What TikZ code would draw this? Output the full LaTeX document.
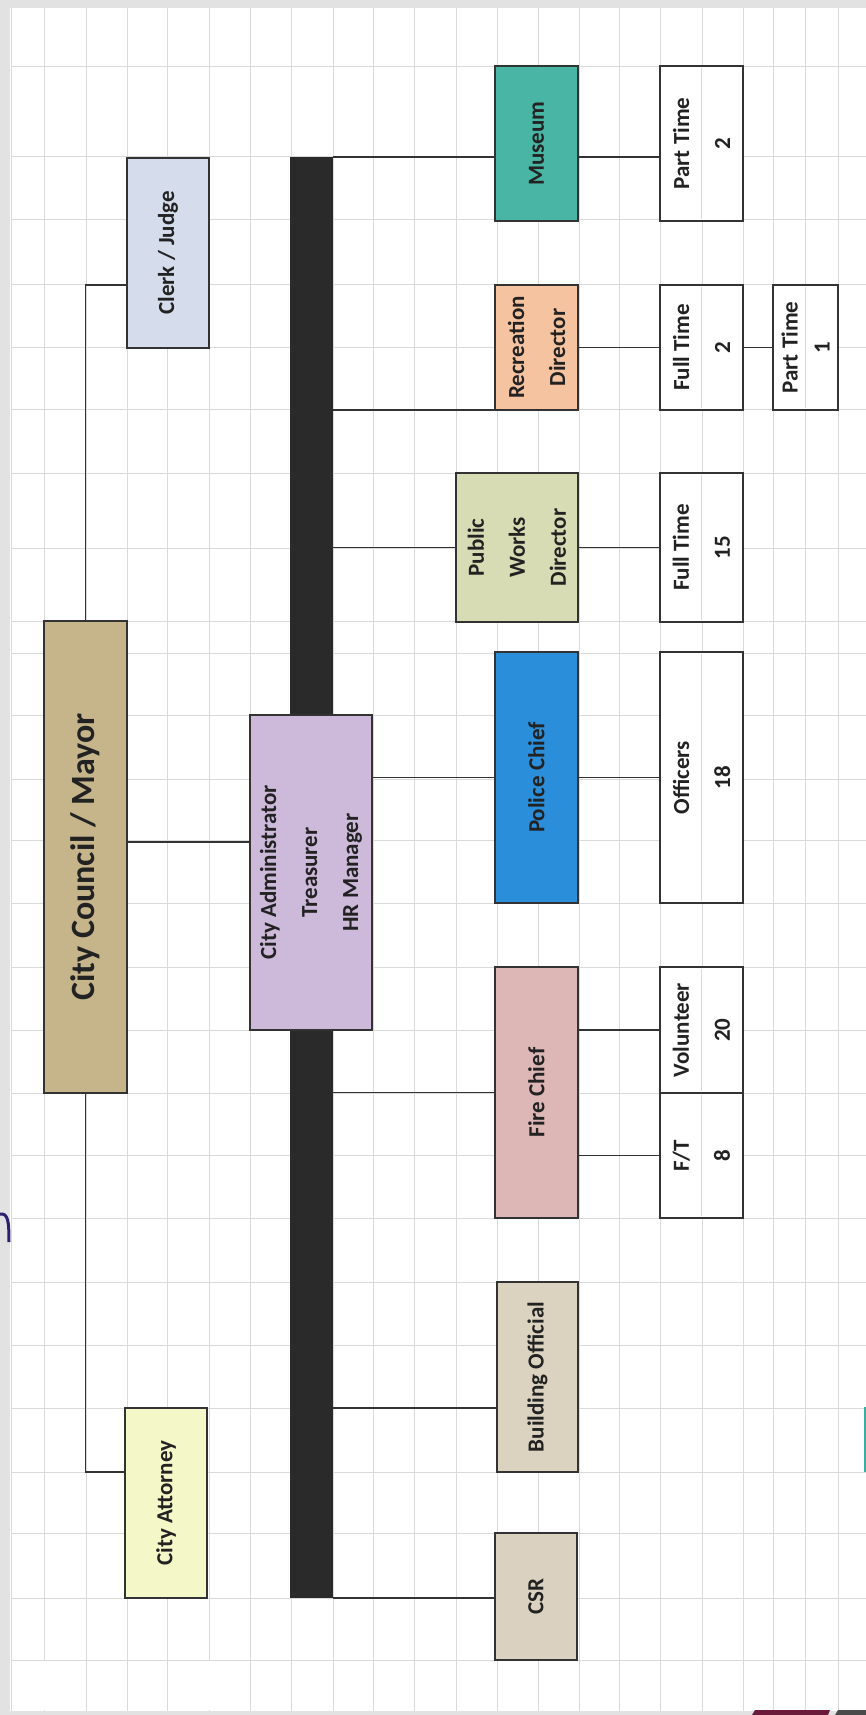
\documentclass[tikz,border=0pt]{standalone}
\usepackage{fontspec}
\setmainfont{Carlito}
\usetikzlibrary{fit}
\definecolor{bandc}{HTML}{E2E2E2}
\definecolor{gridc}{HTML}{DADADA}
\definecolor{linec}{HTML}{333333}
\definecolor{txtc}{HTML}{222222}
\definecolor{barc}{HTML}{2A2A2A}
\definecolor{mayorc}{HTML}{C6B48B}
\definecolor{clerkc}{HTML}{D5DCEC}
\definecolor{attc}{HTML}{F4F8C8}
\definecolor{adminc}{HTML}{CDB9DA}
\definecolor{musc}{HTML}{49B5A5}
\definecolor{recc}{HTML}{F6C3A0}
\definecolor{pwc}{HTML}{D8DCB5}
\definecolor{polc}{HTML}{2B8EDB}
\definecolor{firec}{HTML}{DDB6B6}
\definecolor{boc}{HTML}{DBD2C0}
\definecolor{csrc}{HTML}{DBD1C0}
\definecolor{arcc}{HTML}{2B2170}
\definecolor{tealc}{HTML}{3AAFA0}
\definecolor{redc}{HTML}{6A1A3A}
\definecolor{dgc}{HTML}{4A4A4A}
\begin{document}
\begin{tikzpicture}[x=0.5pt,y=-0.5pt,
  box/.style={draw=linec,line width=1pt,inner sep=0pt,outer sep=0pt},
  barst/.style={fill=barc,inner sep=0pt,outer sep=0pt},
  lbl/.style={rotate=90,align=center,inner sep=0pt,text=txtc,font=\bfseries\fontsize{11.5}{20.5}\selectfont},
  biglbl/.style={lbl,font=\bfseries\fontsize{17}{20}\selectfont},
  conn/.style={draw=linec,line width=0.8pt},
  gridl/.style={draw=gridc,line width=0.5pt},
  divl/.style={draw=gridc,line width=0.5pt}]
\useasboundingbox (0,0) rectangle (866,1715);
\fill[white] (0,0) rectangle (866,1715);
% scan border
\fill[bandc] (0,0) rectangle (866,8);
\fill[bandc] (0,0) rectangle (10,1715);
\fill[bandc] (0,1711) rectangle (866,1715);
% grid
\foreach \x in {11,44,86,127,167,209,250,291,333,373,414,456,497,538,579,619,660,702,743,773,805,838}
  \draw[gridl] (\x,8) -- (\x,1711);
\foreach \y in {66,156,219,284,347,409,473,548,621,653,715,779,840,903,967,1030,1093,1155,1218,1282,1345,1408,1472,1533,1598,1660}
  \draw[gridl] (11,\y) -- (866,\y);
\fill[white] (12,1661) rectangle (83,1710);
\fill[white] (207,1661) rectangle (247,1710);
% artifacts
\draw[arcc,line width=1.5pt] (0,1214) .. controls (8,1213) and (9,1221) .. (9,1242);
\draw[tealc,line width=1pt] (865,1407) -- (865,1472);
\fill[redc] (752,1715) -- (755,1710) -- (830,1710) -- (828,1715) -- cycle;
\fill[dgc] (835,1715) -- (838,1710) -- (866,1710) -- (866,1715) -- cycle;

% bar
\node[barst,fit={(290,157) (333,1598)}] (bar) {};

% boxes
\node[box,fill=mayorc,fit={(44,621) (127,1093)}] (mayor) {};
\node[box,fill=clerkc,fit={(127,158) (209,348)}] (clerk) {};
\node[box,fill=attc,fit={(125,1408) (207,1598)}] (att) {};
\node[box,fill=adminc,fit={(250,715) (372,1030)}] (admin) {};
\node[box,fill=musc,fit={(495,66) (578,221)}] (mus) {};
\node[box,fill=recc,fit={(495,285) (578,410)}] (rec) {};
\node[box,fill=pwc,fit={(456,473) (578,622)}] (pw) {};
\node[box,fill=polc,fit={(495,652) (578,903)}] (pol) {};
\node[box,fill=firec,fit={(495,967) (578,1218)}] (fire) {};
\node[box,fill=boc,fit={(497,1282) (578,1472)}] (bo) {};
\node[box,fill=csrc,fit={(495,1533) (577,1660)}] (csr) {};
\node[box,fill=white,fit={(660,66) (743,221)}] (pt2) {};
\node[box,fill=white,fit={(660,285) (743,410)}] (ft2) {};
\node[box,fill=white,fit={(773,285) (838,410)}] (pt1) {};
\node[box,fill=white,fit={(660,473) (743,622)}] (ft15) {};
\node[box,fill=white,fit={(660,652) (743,903)}] (off) {};
\node[box,fill=white,fit={(660,967) (743,1093)}] (vol) {};
\node[box,fill=white,fit={(660,1093) (743,1218)}] (ft8) {};

% faint cell dividers in the white boxes
\foreach \b in {pt2,ft2,ft15,off,vol,ft8}
  \draw[divl] ([yshift=-1pt]\b.north) -- ([yshift=1pt]\b.south);
\draw[divl] ([yshift=-1pt]pt1.north) -- ([yshift=1pt]pt1.south);

% labels
\node[biglbl] (mayor-t) at (mayor.center) {City Council / Mayor};
\node[lbl] (clerk-t) at (clerk.center) {Clerk / Judge};
\node[lbl] (att-t) at (att.center) {City Attorney};
\node[lbl] (admin-t) at (admin.center) {City Administrator\\Treasurer\\HR Manager};
\node[lbl] (mus-t) at (mus.center) {Museum};
\node[lbl] (rec-t) at (rec.center) {Recreation\\Director};
\node[lbl] (pw-t) at (pw.center) {Public\\Works\\Director};
\node[lbl] (pol-t) at (pol.center) {Police Chief};
\node[lbl] (fire-t) at (fire.center) {Fire Chief};
\node[lbl] (bo-t) at (bo.center) {Building Official};
\node[lbl] (csr-t) at (csr.center) {CSR};
\node[lbl] (pt2-t) at (pt2.center) {Part Time\\2};
\node[lbl] (ft2-t) at (ft2.center) {Full Time\\2};
\node[lbl,font=\bfseries\fontsize{11.5}{16}\selectfont] (pt1-t) at (pt1.center) {Part Time\\1};
\node[lbl] (ft15-t) at (ft15.center) {Full Time\\15};
\node[lbl] (off-t) at (off.center) {Officers\\18};
\node[lbl] (vol-t) at (vol.center) {Volunteer\\20};
\node[lbl] (ft8-t) at (ft8.center) {F/T\\8};

% connectors
\draw[conn] (mayor.east |- 0,842) -- (admin.west |- 0,842);
\draw[conn] (mayor.north) |- (clerk.west |- 0,285);
\draw[conn] (mayor.south) |- (att.west |- 0,1472);
\draw[conn] (bar.north east) -- (mus.west |- bar.north east);
\draw[conn] (mus.east |- bar.north east) -- (pt2.west |- bar.north east);
\draw[conn] (bar.east |- rec.south) -- (rec.south west);
\draw[conn] (rec.east) -- (ft2.west);
\draw[conn] (ft2.east) -- (pt1.west);
\draw[conn] (bar.east |- pw.west) -- (pw.west);
\draw[conn] (pw.east) -- (ft15.west);
\draw[conn] (admin.east |- pol.west) -- (pol.west);
\draw[conn] (pol.east) -- (off.west);
\draw[conn] (bar.east |- fire.west) -- (fire.west);
\draw[conn] (fire.east |- vol.west) -- (vol.west);
\draw[conn] (fire.east |- ft8.west) -- (ft8.west);
\draw[conn] (bar.east |- 0,1408) -- (bo.west |- 0,1408);
\draw[conn] (bar.south east) -- (csr.west |- bar.south east);
\end{tikzpicture}
\end{document}
